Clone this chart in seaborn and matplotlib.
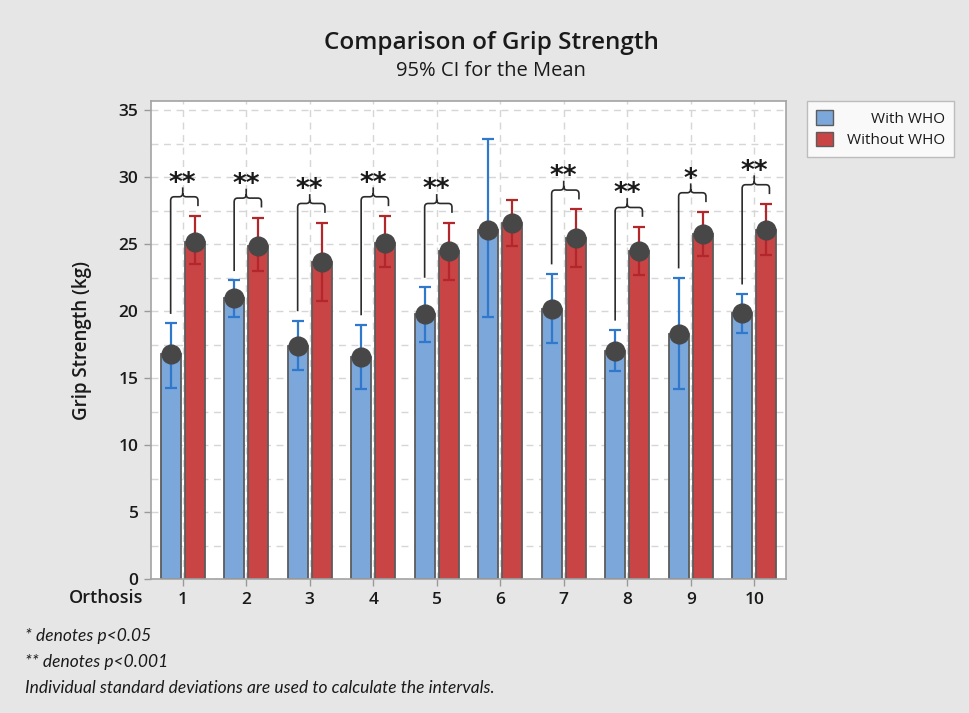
import numpy as np
import pandas as pd
import matplotlib
matplotlib.use("Agg")
import matplotlib.pyplot as plt
from matplotlib.path import Path
from matplotlib.patches import PathPatch, Patch
from matplotlib.ticker import MultipleLocator
import seaborn as sns

# Grip strength (kg): means and 95% confidence limits per orthosis
orthosis = ["1", "2", "3", "4", "5", "6", "7", "8", "9", "10"]
with_mean = [16.8, 21.0, 17.4, 16.6, 19.8, 26.1, 20.2, 17.0, 18.3, 19.9]
with_lo = [14.3, 19.6, 15.6, 14.2, 17.7, 19.6, 17.6, 15.5, 14.2, 18.4]
with_hi = [19.1, 22.3, 19.3, 19.0, 21.8, 32.9, 22.8, 18.6, 22.5, 21.3]
without_mean = [25.2, 24.9, 23.7, 25.1, 24.5, 26.6, 25.5, 24.5, 25.8, 26.1]
without_lo = [23.5, 23.0, 20.8, 23.3, 22.3, 24.9, 23.3, 22.7, 24.1, 24.2]
without_hi = [27.1, 27.0, 26.6, 27.1, 26.6, 28.3, 27.6, 26.3, 27.4, 28.0]
significance = ["**", "**", "**", "**", "**", "", "**", "**", "*", "**"]
groups = ["With WHO", "Without WHO"]

BG = "#e6e6e6"
BLUE, RED = "#7ba7db", "#c94444"
BLUE_ERR, RED_ERR = "#2f78cc", "#b3262b"
DOT = "#474747"
EDGE = "#5c5c5c"
INK = "#1a1a1a"

sns.set_theme(style="white")
plt.rcParams["font.family"] = ["Open Sans", "DejaVu Sans"]

df = pd.DataFrame({
    "Orthosis": orthosis * 2,
    "Condition": [groups[0]] * len(orthosis) + [groups[1]] * len(orthosis),
    "Strength": with_mean + without_mean,
})

fig = plt.figure(figsize=(9.69, 7.13), dpi=100, facecolor=BG)
ax = fig.add_axes([0.1558, 0.1879, 0.6553, 0.6704])
ax.set_facecolor("white")

sns.barplot(data=df, x="Orthosis", y="Strength", hue="Condition",
            order=orthosis, hue_order=groups, palette=[BLUE, RED],
            saturation=1, width=0.76, gap=0.17, errorbar=None,
            edgecolor=EDGE, linewidth=1.3, legend=False, ax=ax, zorder=2)

series = [(with_mean, with_lo, with_hi, BLUE_ERR),
          (without_mean, without_lo, without_hi, RED_ERR)]
centers = []
for container, (m, lo, hi, ec) in zip(ax.containers, series):
    xs = np.array([p.get_x() + p.get_width() / 2 for p in container.patches])
    centers.append(xs)
    m, lo, hi = np.array(m), np.array(lo), np.array(hi)
    ax.errorbar(xs, m, yerr=[m - lo, hi - m], fmt="none", ecolor=ec,
                elinewidth=1.6, capsize=4.5, capthick=1.6, zorder=3)
    ax.plot(xs, m, "o", color=DOT, markersize=13.5, zorder=4)

# Significance braces linking the two bars of each orthosis
rx, ry = 0.055, 0.28
for i, sig in enumerate(significance):
    if not sig:
        continue
    xl = centers[0][i]
    xr = centers[1][i] + 0.05
    xc = i
    y0 = with_hi[i] + 0.7
    h = without_hi[i] + 1.45
    y1 = without_hi[i] + 0.75
    verts = [(xl, y0), (xl, h - ry), (xl, h), (xl + rx, h),
             (xc - rx, h), (xc, h), (xc, h + ry), (xc, h + 0.7),
             (xc, h + ry), (xc, h), (xc + rx, h),
             (xr - rx, h), (xr, h), (xr, h - ry), (xr, y1)]
    codes = [Path.MOVETO, Path.LINETO, Path.CURVE3, Path.CURVE3,
             Path.LINETO, Path.CURVE3, Path.CURVE3, Path.LINETO,
             Path.MOVETO, Path.CURVE3, Path.CURVE3,
             Path.LINETO, Path.CURVE3, Path.CURVE3, Path.LINETO]
    ax.add_patch(PathPatch(Path(verts, codes), fill=False, edgecolor="#2b2b2b",
                           linewidth=1.2, zorder=5))
    ax.text(xc, h + 0.45, sig, ha="center", va="baseline",
            fontsize=19, fontweight="bold", family="DejaVu Sans",
            color=INK, zorder=6)

ax.set_xlim(-0.5, len(orthosis) - 0.5)
ax.set_ylim(0, 35.7)
ax.yaxis.set_major_locator(MultipleLocator(5))
ax.yaxis.set_minor_locator(MultipleLocator(2.5))
ax.grid(True, which="both", axis="y", linestyle=(0, (5, 4)),
        color="#d6d6d6", linewidth=1.0, zorder=0)
ax.grid(True, which="major", axis="x", linestyle=(0, (5, 4)),
        color="#d6d6d6", linewidth=1.0, zorder=0)
ax.set_axisbelow(True)
ax.tick_params(axis="both", which="major", length=5, width=1.0,
               color="#9a9a9a", labelsize=12.5, labelcolor=INK,
               direction="out", pad=4, left=True, bottom=True)
ax.tick_params(axis="y", which="minor", length=0)
for lbl in ax.get_xticklabels() + ax.get_yticklabels():
    lbl.set_fontweight("semibold")
for sp in ax.spines.values():
    sp.set_color("#a3a3a3")
    sp.set_linewidth(1.2)

ax.set_xlabel("")
ax.set_ylabel("Grip Strength (kg)", fontsize=13.5, fontweight="semibold",
              color=INK, labelpad=19)
fig.text(0.109, 0.161, "Orthosis", ha="center", va="center", fontsize=13,
         fontweight="semibold", color=INK)

fig.text(0.507, 0.94, "Comparison of Grip Strength", ha="center",
         va="center", fontsize=17.5, fontweight="semibold", color=INK)
fig.text(0.507, 0.90, "95% CI for the Mean", ha="center", va="center",
         fontsize=14.5, color=INK)

handles = [Patch(facecolor=BLUE, edgecolor=EDGE, linewidth=1.0),
           Patch(facecolor=RED, edgecolor=EDGE, linewidth=1.0)]
leg = fig.legend(handles, groups, loc="upper left",
                 bbox_to_anchor=(0.833, 0.858), frameon=True,
                 fancybox=False, edgecolor="#b0b0b0", facecolor="white",
                 fontsize=11, handlelength=1.1, handleheight=1.1,
                 handletextpad=0.9, borderpad=0.6, labelspacing=0.3,
                 borderaxespad=0)
leg.get_frame().set_linewidth(1.0)
for t in leg.get_texts():
    t.set_color(INK)

# Right-align the legend labels
fig.canvas.draw()
renderer = fig.canvas.get_renderer()
texts = leg.get_texts()
widths = [t.get_window_extent(renderer).width for t in texts]
wmax = max(widths)
for t, w in zip(texts, widths):
    t.set_position((wmax - w, 0))

notes = ["* denotes p<0.05", "** denotes p<0.001",
         "Individual standard deviations are used to calculate the intervals."]
for k, note in enumerate(notes):
    fig.text(0.026, 0.108 - k * 0.0365, note, ha="left", va="center",
             fontsize=12.5, fontstyle="italic", family=["Lato", "DejaVu Sans"],
             color=INK)

fig.savefig("out.png", dpi=100, facecolor=BG)
